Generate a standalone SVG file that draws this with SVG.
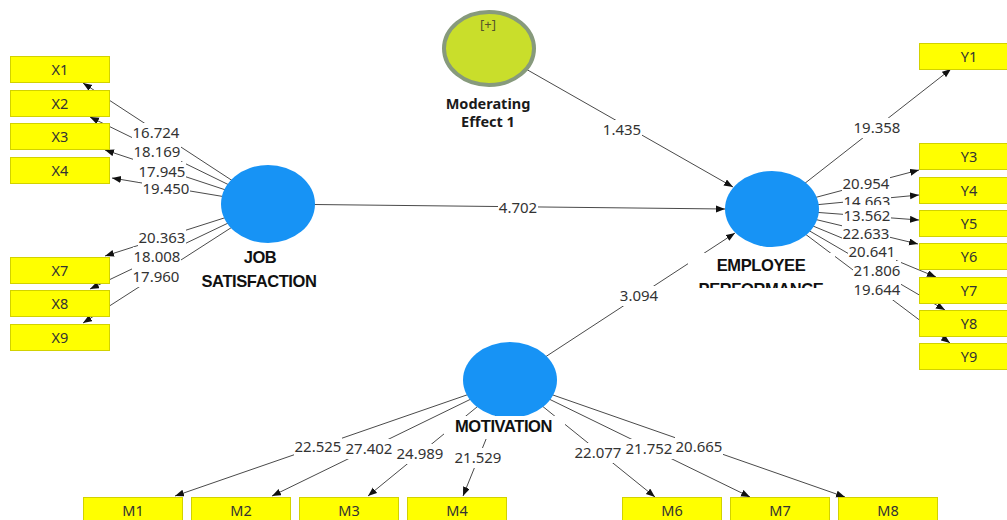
<svg xmlns="http://www.w3.org/2000/svg" width="1007" height="520" viewBox="0 0 1007 520">
<defs>
<marker id="arr" markerUnits="userSpaceOnUse" markerWidth="10" markerHeight="8" refX="9" refY="3.5" orient="auto">
<path d="M0,0 L9,3.5 L0,7 z" fill="#111"/>
</marker>
<clipPath id="epclip"><rect x="600" y="240" width="300" height="48"/></clipPath>
<style>
.ln{stroke:#4a4a4a;stroke-width:1;fill:none;marker-end:url(#arr)}
.lb{font-family:"Noto Sans","Open Sans",sans-serif;font-size:15px;fill:#333;text-anchor:middle}
.bg{fill:#fff}
.box{fill:#ffff00;stroke:#d2d200;stroke-width:1}
.bt{font-family:"Noto Sans","Open Sans",sans-serif;font-size:14.5px;fill:#333;text-anchor:middle}
.lv{fill:#1793f5}
.nl{font-family:"Liberation Sans",Arial,sans-serif;font-size:16.5px;font-weight:bold;letter-spacing:-0.4px;fill:#111;text-anchor:middle}
</style>
</defs>
<rect width="1007" height="520" fill="#fff"/>
<g id="connectors">
<line class="ln" x1="268" y1="204" x2="83" y2="83"/>
<line class="ln" x1="268" y1="204" x2="90" y2="117"/>
<line class="ln" x1="268" y1="204" x2="105" y2="150"/>
<line class="ln" x1="268" y1="204" x2="112" y2="178"/>
<line class="ln" x1="268" y1="204" x2="105" y2="256"/>
<line class="ln" x1="268" y1="204" x2="90" y2="289"/>
<line class="ln" x1="268" y1="204" x2="83" y2="323"/>
<line class="ln" x1="772" y1="209" x2="951" y2="69"/>
<line class="ln" x1="772" y1="209" x2="919" y2="170"/>
<line class="ln" x1="772" y1="209" x2="919" y2="195"/>
<line class="ln" x1="772" y1="209" x2="919" y2="220"/>
<line class="ln" x1="772" y1="209" x2="918" y2="244"/>
<line class="ln" x1="772" y1="209" x2="936" y2="277"/>
<line class="ln" x1="772" y1="209" x2="945" y2="310"/>
<line class="ln" x1="772" y1="209" x2="950" y2="343"/>
<line class="ln" x1="510" y1="380" x2="175" y2="496"/>
<line class="ln" x1="510" y1="380" x2="272" y2="496"/>
<line class="ln" x1="510" y1="380" x2="368" y2="496"/>
<line class="ln" x1="510" y1="380" x2="463" y2="496"/>
<line class="ln" x1="510" y1="380" x2="655" y2="497"/>
<line class="ln" x1="510" y1="380" x2="750" y2="497"/>
<line class="ln" x1="510" y1="380" x2="845" y2="497"/>
<line class="ln" x1="489" y1="48" x2="733" y2="187"/>
<line class="ln" x1="268" y1="204" x2="725" y2="209"/>
<line class="ln" x1="510" y1="380" x2="735" y2="233"/>
<g id="edge-labels">
<rect class="bg" x="132" y="123" width="48" height="20"/><text class="lb" x="156" y="138.4">16.724</text>
<rect class="bg" x="133" y="142" width="48" height="20"/><text class="lb" x="157" y="157.4">18.169</text>
<rect class="bg" x="138" y="162" width="48" height="20"/><text class="lb" x="162" y="177.4">17.945</text>
<rect class="bg" x="142" y="179" width="48" height="20"/><text class="lb" x="166" y="194.4">19.450</text>
<rect class="bg" x="138" y="228" width="48" height="20"/><text class="lb" x="162" y="243.4">20.363</text>
<rect class="bg" x="133" y="247" width="48" height="20"/><text class="lb" x="157" y="262.4">18.008</text>
<rect class="bg" x="132" y="267" width="48" height="20"/><text class="lb" x="156" y="282.4">17.960</text>
<rect class="bg" x="853" y="118" width="48" height="20"/><text class="lb" x="877" y="133.4">19.358</text>
<rect class="bg" x="842" y="174" width="48" height="20"/><text class="lb" x="866" y="189.4">20.954</text>
<rect class="bg" x="843" y="191" width="48" height="20"/><text class="lb" x="867" y="206.9">14.663</text>
<rect class="bg" x="843" y="205" width="48" height="20"/><text class="lb" x="867" y="221.4">13.562</text>
<rect class="bg" x="842" y="224" width="48" height="19"/><text class="lb" x="866" y="238.6">22.633</text>
<rect class="bg" x="848" y="242" width="48" height="20"/><text class="lb" x="872" y="257.4">20.641</text>
<rect class="bg" x="853" y="261" width="48" height="20"/><text class="lb" x="877" y="276.4">21.806</text>
<rect class="bg" x="853" y="280" width="48" height="20"/><text class="lb" x="877" y="295.4">19.644</text>
<rect class="bg" x="602" y="120" width="40" height="20"/><text class="lb" x="622" y="135.4">1.435</text>
<rect class="bg" x="498" y="198" width="40" height="20"/><text class="lb" x="518" y="213.4">4.702</text>
<rect class="bg" x="619" y="286" width="40" height="20"/><text class="lb" x="639" y="301.4">3.094</text>
<rect class="bg" x="294" y="437" width="48" height="20"/><text class="lb" x="318" y="452.4">22.525</text>
<rect class="bg" x="345" y="439" width="48" height="20"/><text class="lb" x="369" y="454.4">27.402</text>
<rect class="bg" x="396" y="444" width="48" height="20"/><text class="lb" x="420" y="459.4">24.989</text>
<rect class="bg" x="454" y="448" width="48" height="20"/><text class="lb" x="478" y="463.4">21.529</text>
<rect class="bg" x="574" y="443" width="48" height="20"/><text class="lb" x="598" y="458.4">22.077</text>
<rect class="bg" x="625" y="439" width="48" height="20"/><text class="lb" x="649" y="454.4">21.752</text>
<rect class="bg" x="675" y="437" width="48" height="20"/><text class="lb" x="699" y="452.4">20.665</text>
</g>
</g>
<g id="moderating-effect-1">
<ellipse cx="489" cy="48.5" rx="45" ry="36.5" fill="#c9de2b" stroke="#879a7c" stroke-width="4"/>
<text x="488" y="29" font-family="Noto Sans, sans-serif" font-size="13" fill="#55552a" text-anchor="middle">[+]</text>
<text x="488" y="109" font-family="Noto Sans, sans-serif" font-size="14.5" font-weight="bold" fill="#1a1a1a" text-anchor="middle">Moderating</text>
<text x="488" y="127" font-family="Noto Sans, sans-serif" font-size="14.5" font-weight="bold" fill="#1a1a1a" text-anchor="middle">Effect 1</text>
</g>
<g id="job-satisfaction">
<ellipse class="lv" cx="268" cy="204" rx="47" ry="39"/>
<text class="nl" x="260" y="263">JOB</text>
<text class="nl" x="259" y="287">SATISFACTION</text>
</g>
<g id="employee-performance">
<ellipse class="lv" cx="772" cy="209" rx="47" ry="38"/>
<g clip-path="url(#epclip)">
<rect class="bg" x="688" y="253" width="147" height="40"/>
<text class="nl" x="761" y="271">EMPLOYEE</text>
<text class="nl" x="761" y="295">PERFORMANCE</text>
</g>
</g>
<g id="motivation">
<ellipse class="lv" cx="510" cy="380" rx="47" ry="38"/>
<rect class="bg" x="444" y="416" width="121" height="23"/>
<text class="nl" x="503.5" y="432">MOTIVATION</text>
</g>
<g id="X1"><rect class="box" x="10.5" y="56.5" width="99" height="26"/><text class="bt" x="60" y="75">X1</text></g>
<g id="X2"><rect class="box" x="10.5" y="90.5" width="99" height="26"/><text class="bt" x="60" y="109">X2</text></g>
<g id="X3"><rect class="box" x="10.5" y="123.5" width="99" height="26"/><text class="bt" x="60" y="142">X3</text></g>
<g id="X4"><rect class="box" x="10.5" y="157.5" width="99" height="26"/><text class="bt" x="60" y="176">X4</text></g>
<g id="X7"><rect class="box" x="10.5" y="257.5" width="99" height="26"/><text class="bt" x="60" y="276">X7</text></g>
<g id="X8"><rect class="box" x="10.5" y="290.5" width="99" height="26"/><text class="bt" x="60" y="309">X8</text></g>
<g id="X9"><rect class="box" x="10.5" y="324.5" width="99" height="26"/><text class="bt" x="60" y="343">X9</text></g>
<g id="Y1"><rect class="box" x="919.5" y="43.5" width="99" height="26"/><text class="bt" x="969" y="62">Y1</text></g>
<g id="Y3"><rect class="box" x="919.5" y="143.5" width="99" height="26"/><text class="bt" x="969" y="162">Y3</text></g>
<g id="Y4"><rect class="box" x="919.5" y="177.5" width="99" height="26"/><text class="bt" x="969" y="196">Y4</text></g>
<g id="Y5"><rect class="box" x="919.5" y="210.5" width="99" height="26"/><text class="bt" x="969" y="229">Y5</text></g>
<g id="Y6"><rect class="box" x="919.5" y="243.5" width="99" height="26"/><text class="bt" x="969" y="262">Y6</text></g>
<g id="Y7"><rect class="box" x="919.5" y="277.5" width="99" height="26"/><text class="bt" x="969" y="296">Y7</text></g>
<g id="Y8"><rect class="box" x="919.5" y="310.5" width="99" height="26"/><text class="bt" x="969" y="329">Y8</text></g>
<g id="Y9"><rect class="box" x="919.5" y="343.5" width="99" height="26"/><text class="bt" x="969" y="362">Y9</text></g>
<g id="M1"><rect class="box" x="83.5" y="497.5" width="99" height="26"/><text class="bt" x="133" y="516">M1</text></g>
<g id="M2"><rect class="box" x="191.5" y="497.5" width="99" height="26"/><text class="bt" x="241" y="516">M2</text></g>
<g id="M3"><rect class="box" x="299.5" y="497.5" width="99" height="26"/><text class="bt" x="349" y="516">M3</text></g>
<g id="M4"><rect class="box" x="407.5" y="497.5" width="99" height="26"/><text class="bt" x="457" y="516">M4</text></g>
<g id="M6"><rect class="box" x="622.5" y="497.5" width="99" height="26"/><text class="bt" x="672" y="516">M6</text></g>
<g id="M7"><rect class="box" x="730.5" y="497.5" width="99" height="26"/><text class="bt" x="780" y="516">M7</text></g>
<g id="M8"><rect class="box" x="838.5" y="497.5" width="99" height="26"/><text class="bt" x="888" y="516">M8</text></g>
</svg>
